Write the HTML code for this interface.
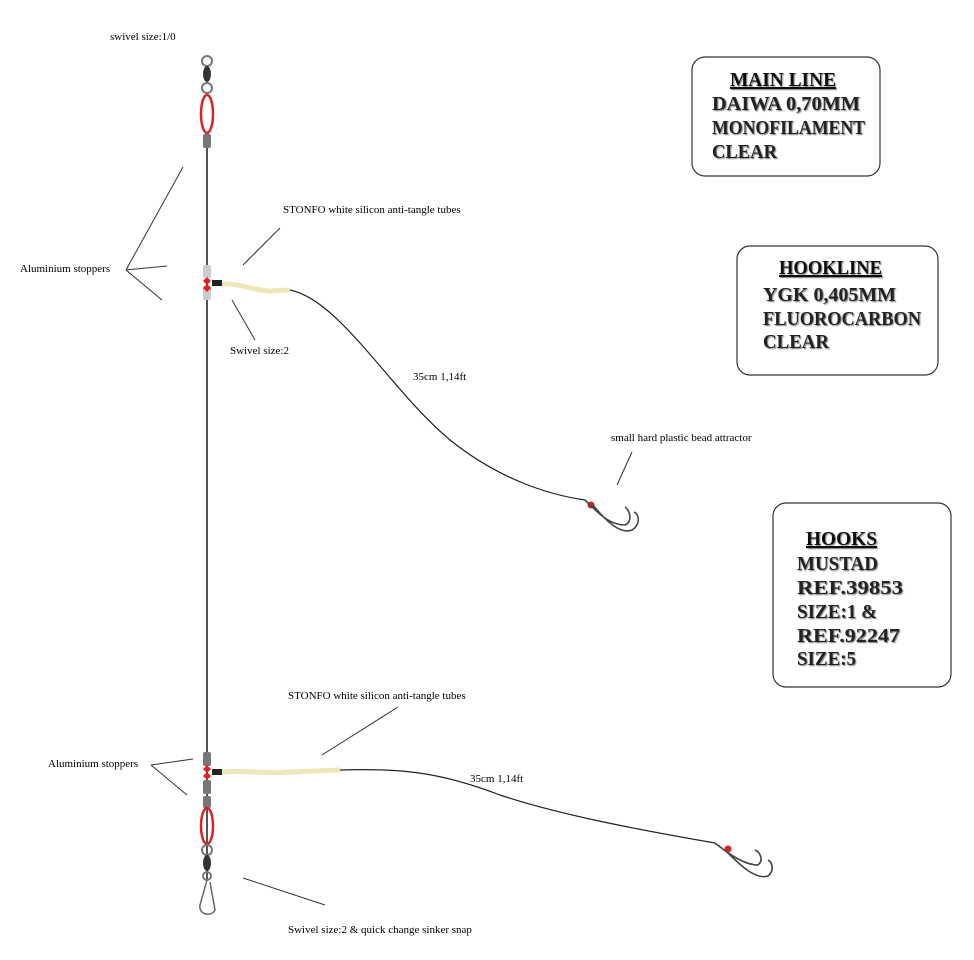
<!DOCTYPE html>
<html><head><meta charset="utf-8"><style>
html,body{margin:0;padding:0;background:#fff;}
svg{display:block;}
.s{font-family:"Liberation Serif",serif;font-size:11px;fill:#000;}
.b{font-family:"Liberation Serif",serif;font-weight:bold;font-size:20px;fill:#222;}
.h{font-family:"Liberation Serif",serif;font-weight:900;font-size:20px;fill:#111;text-decoration:underline;}
</style></head><body>
<svg width="974" height="960" viewBox="0 0 974 960" xmlns="http://www.w3.org/2000/svg">
<defs>
<filter id="sh"><feDropShadow dx="1" dy="1" stdDeviation="0.6" flood-color="#777"/></filter>
</defs>
<line x1="207" y1="145" x2="207" y2="880" stroke="#555" stroke-width="2"/>
<circle cx="207" cy="61" r="5" fill="none" stroke="#777" stroke-width="2"/>
<ellipse cx="207" cy="74" rx="4" ry="8" fill="#333"/>
<circle cx="207" cy="88" r="5" fill="none" stroke="#777" stroke-width="2"/>
<ellipse cx="207" cy="114" rx="6" ry="19" fill="none" stroke="#d22" stroke-width="2.5"/>
<rect x="203" y="134" width="8" height="14" rx="2" fill="#777"/>
<rect x="203" y="265" width="8" height="13" rx="2" fill="#ccc"/>
<rect x="203" y="286" width="8" height="14" rx="2" fill="#ccc"/>
<path d="M203 281 l4 -4 4 4 -4 4z M203 288 l4 -4 4 4 -4 4z" fill="#d22"/>
<rect x="212" y="280" width="10" height="6" fill="#222"/>
<path d="M222 284 C240 283 250 290 270 291 L290 290" stroke="#efe6b8" stroke-width="5" fill="none"/>
<path d="M290 290 C340 300 390 390 450 440 C500 480 550 495 585 500" stroke="#222" stroke-width="1.2" fill="none"/>
<circle cx="591" cy="505" r="3.5" fill="#d22"/>
<path d="M585 500 C600 515 610 525 625 525 C633 522 630 510 625 507 M593 505 C605 520 620 535 632 530 C640 525 640 515 634 512" stroke="#444" stroke-width="1.6" fill="none"/>
<rect x="203" y="752" width="8" height="14" rx="2" fill="#777"/>
<rect x="203" y="780" width="8" height="14" rx="2" fill="#777"/>
<path d="M203 769 l4 -4 4 4 -4 4z M203 776 l4 -4 4 4 -4 4z" fill="#d22"/>
<rect x="212" y="769" width="10" height="6" fill="#222"/>
<path d="M222 772 C250 770 260 774 290 772 L340 770" stroke="#efe6b8" stroke-width="5" fill="none"/>
<path d="M340 770 C400 768 440 772 500 795 C560 815 640 830 715 843" stroke="#222" stroke-width="1.2" fill="none"/>
<circle cx="728" cy="849" r="3.5" fill="#d22"/>
<path d="M715 843 C730 855 745 865 758 865 C764 860 760 852 755 850 M725 850 C740 865 755 880 768 876 C775 870 772 862 768 860" stroke="#444" stroke-width="1.6" fill="none"/>
<rect x="203" y="796" width="8" height="12" rx="2" fill="#777"/>
<ellipse cx="207" cy="826" rx="6" ry="18" fill="none" stroke="#d22" stroke-width="2.5"/>
<circle cx="207" cy="850" r="5" fill="none" stroke="#777" stroke-width="2"/>
<ellipse cx="207" cy="863" rx="4" ry="8" fill="#333"/>
<circle cx="207" cy="876" r="4" fill="none" stroke="#777" stroke-width="2"/>
<path d="M207 880 L200 905 C198 915 212 917 215 910 L210 882" fill="none" stroke="#666" stroke-width="1.5"/>
<g stroke="#333" stroke-width="1">
<line x1="126" y1="270" x2="183" y2="167"/><line x1="126" y1="270" x2="167" y2="266"/><line x1="126" y1="270" x2="162" y2="300"/>
<line x1="280" y1="228" x2="243" y2="265"/>
<line x1="232" y1="300" x2="255" y2="340"/>
<line x1="632" y1="452" x2="617" y2="485"/>
<line x1="151" y1="765" x2="193" y2="759"/><line x1="151" y1="765" x2="187" y2="795"/>
<line x1="398" y1="707" x2="322" y2="755"/>
<line x1="243" y1="878" x2="325" y2="905"/>
</g>
<text class="s" x="110" y="40">swivel size:1/0</text>
<text class="s" x="283" y="213">STONFO white silicon anti-tangle tubes</text>
<text class="s" x="20" y="272">Aluminium stoppers</text>
<text class="s" x="230" y="354">Swivel size:2</text>
<text class="s" x="413" y="380">35cm 1,14ft</text>
<text class="s" x="611" y="441">small hard plastic bead attractor</text>
<text class="s" x="288" y="699">STONFO white silicon anti-tangle tubes</text>
<text class="s" x="48" y="767">Aluminium stoppers</text>
<text class="s" x="470" y="782">35cm 1,14ft</text>
<text class="s" x="288" y="933">Swivel size:2 &amp; quick change sinker snap</text>
<g fill="#fff" stroke="#333" stroke-width="1.2">
<rect x="692" y="57" width="188" height="119" rx="13"/>
<rect x="737" y="246" width="201" height="129" rx="13"/>
<rect x="773" y="503" width="178" height="184" rx="13"/>
</g>
<g filter="url(#sh)">
<text class="h" x="730" y="86" textLength="106" lengthAdjust="spacingAndGlyphs">MAIN LINE</text>
<text class="b" x="712" y="110" textLength="148" lengthAdjust="spacingAndGlyphs">DAIWA 0,70MM</text>
<text class="b" x="712" y="134" textLength="153" lengthAdjust="spacingAndGlyphs">MONOFILAMENT</text>
<text class="b" x="712" y="158" textLength="65" lengthAdjust="spacingAndGlyphs">CLEAR</text>
<text class="h" x="779" y="274" textLength="103" lengthAdjust="spacingAndGlyphs">HOOKLINE</text>
<text class="b" x="763" y="301" textLength="133" lengthAdjust="spacingAndGlyphs">YGK 0,405MM</text>
<text class="b" x="763" y="325" textLength="158" lengthAdjust="spacingAndGlyphs">FLUOROCARBON</text>
<text class="b" x="763" y="348" textLength="66" lengthAdjust="spacingAndGlyphs">CLEAR</text>
<text class="h" x="806" y="545" textLength="71" lengthAdjust="spacingAndGlyphs">HOOKS</text>
<text class="b" x="797" y="570" textLength="81" lengthAdjust="spacingAndGlyphs">MUSTAD</text>
<text class="b" x="797" y="594" textLength="106" lengthAdjust="spacingAndGlyphs">REF.39853</text>
<text class="b" x="797" y="618" textLength="80" lengthAdjust="spacingAndGlyphs">SIZE:1 &amp;</text>
<text class="b" x="797" y="642" textLength="103" lengthAdjust="spacingAndGlyphs">REF.92247</text>
<text class="b" x="797" y="665" textLength="59" lengthAdjust="spacingAndGlyphs">SIZE:5</text>
</g>
</svg>
</body></html>
